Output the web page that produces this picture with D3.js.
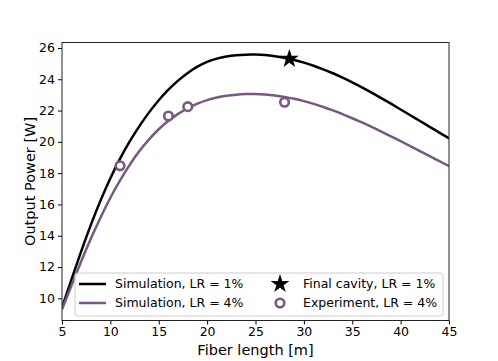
<!DOCTYPE html>
<html><head><meta charset="utf-8">
<script src="https://cdn.jsdelivr.net/npm/d3@7"></script>
<style>body{margin:0;background:#fff}svg{display:block}text{font-family:"DejaVu Sans",sans-serif}</style>
</head><body>
<svg id="c" width="498" height="361"></svg>
<script>
const fiberLength = [5,6,7,8,9,10,11,12,13,14,15,16,17,18,19,20,21,22,23,24,25,26,27,28,29,30,31,32,33,34,35,36,37,38,39,40,41,42,43,44,45];
const simLR1 = [9.4,11.25,13.05,14.75,16.3,17.7,18.95,20.05,21.02,21.9,22.68,23.35,23.93,24.42,24.82,25.13,25.33,25.46,25.54,25.58,25.58,25.55,25.48,25.38,25.24,25.07,24.87,24.64,24.39,24.11,23.81,23.49,23.15,22.8,22.44,22.07,21.7,21.33,20.96,20.59,20.22];
const simLR4 = [9.3,10.85,12.4,13.85,15.2,16.45,17.55,18.55,19.43,20.18,20.82,21.36,21.8,22.16,22.45,22.68,22.84,22.95,23.02,23.06,23.06,23.03,22.97,22.88,22.76,22.61,22.43,22.23,22.01,21.77,21.51,21.24,20.96,20.66,20.35,20.04,19.73,19.41,19.09,18.77,18.45];
const finalCavity = [{x:28.5, y:25.3}];
const expLength = [11,16,18,28];
const expPower = [18.47,21.65,22.25,22.53];
const xTicks = [5,10,15,20,25,30,35,40,45];
const yTicks = [10,12,14,16,18,20,22,24,26];
const legendLabels = ["Simulation, LR = 1%","Simulation, LR = 4%","Final cavity, LR = 1%","Experiment, LR = 4%"];

const purple = "#785882";
const svg = d3.select("#c");
const L=62, R=449, T=42.5, B=320.5;
const x = d3.scaleLinear().domain([5,45]).range([L,R]);
const y = d3.scaleLinear().domain([8.58,26.35]).range([B,T]);

svg.append("clipPath").attr("id","clip").append("rect").attr("x",L).attr("y",T).attr("width",R-L).attr("height",B-T);

const line = d3.line().x((d,i)=>x(fiberLength[i])).y(d=>y(d)).curve(d3.curveBasis);
const g = svg.append("g").attr("clip-path","url(#clip)");
g.append("path").attr("d",line(simLR1)).attr("fill","none").attr("stroke","#000").attr("stroke-width",2.5);
g.append("path").attr("d",line(simLR4)).attr("fill","none").attr("stroke",purple).attr("stroke-width",2.5);

const star = d3.symbol().type(d3.symbolStar).size(110);
svg.selectAll(".star").data(finalCavity).join("path").attr("d",star)
  .attr("transform",d=>`translate(${x(d.x)},${y(d.y)})`).attr("fill","#000");
svg.selectAll(".exp").data(expLength).join("circle")
  .attr("cx",d=>x(d)).attr("cy",(d,i)=>y(expPower[i])).attr("r",4.3)
  .attr("fill","#fff").attr("stroke",purple).attr("stroke-width",2.6);

// axes
const xa = svg.append("g").attr("transform",`translate(0,${B})`)
  .call(d3.axisBottom(x).tickValues(xTicks).tickSize(4).tickPadding(3));
const ya = svg.append("g").attr("transform",`translate(${L},0)`)
  .call(d3.axisLeft(y).tickValues(yTicks).tickSize(4).tickPadding(3));
[xa,ya].forEach(a=>{a.select(".domain").remove();a.selectAll("text").attr("font-size",12.5).attr("fill","#000").attr("font-family","DejaVu Sans");a.selectAll("line").attr("stroke","#000");});
svg.append("rect").attr("x",L).attr("y",T).attr("width",R-L).attr("height",B-T).attr("fill","none").attr("stroke","#222").attr("stroke-width",1);

svg.append("text").attr("x",(L+R)/2).attr("y",355).attr("text-anchor","middle").attr("font-size",14.5).text("Fiber length [m]");
svg.append("text").attr("transform",`translate(35,${(T+B)/2}) rotate(-90)`).attr("text-anchor","middle").attr("font-size",14.5).text("Output Power [W]");

// legend
const lg = svg.append("g");
lg.append("rect").attr("x",75).attr("y",273).attr("width",368).attr("height",43).attr("rx",3)
  .attr("fill","rgba(255,255,255,0.8)").attr("stroke","#ccc").attr("stroke-width",1);
const rows=[284,303];
lg.append("line").attr("x1",79).attr("x2",106).attr("y1",rows[0]).attr("y2",rows[0]).attr("stroke","#000").attr("stroke-width",2.5);
lg.append("line").attr("x1",79).attr("x2",106).attr("y1",rows[1]).attr("y2",rows[1]).attr("stroke",purple).attr("stroke-width",2.5);
lg.append("path").attr("d",star).attr("transform",`translate(280,${rows[0]})`).attr("fill","#000");
lg.append("circle").attr("cx",280).attr("cy",rows[1]).attr("r",4.3).attr("fill","#fff").attr("stroke",purple).attr("stroke-width",2.6);
const lx=[115,115,303,303], ly=[rows[0],rows[1],rows[0],rows[1]];
legendLabels.forEach((t,i)=>lg.append("text").attr("x",lx[i]).attr("y",ly[i]).attr("dy","0.35em").attr("font-size",12.5).text(t));
</script>
</body></html>
